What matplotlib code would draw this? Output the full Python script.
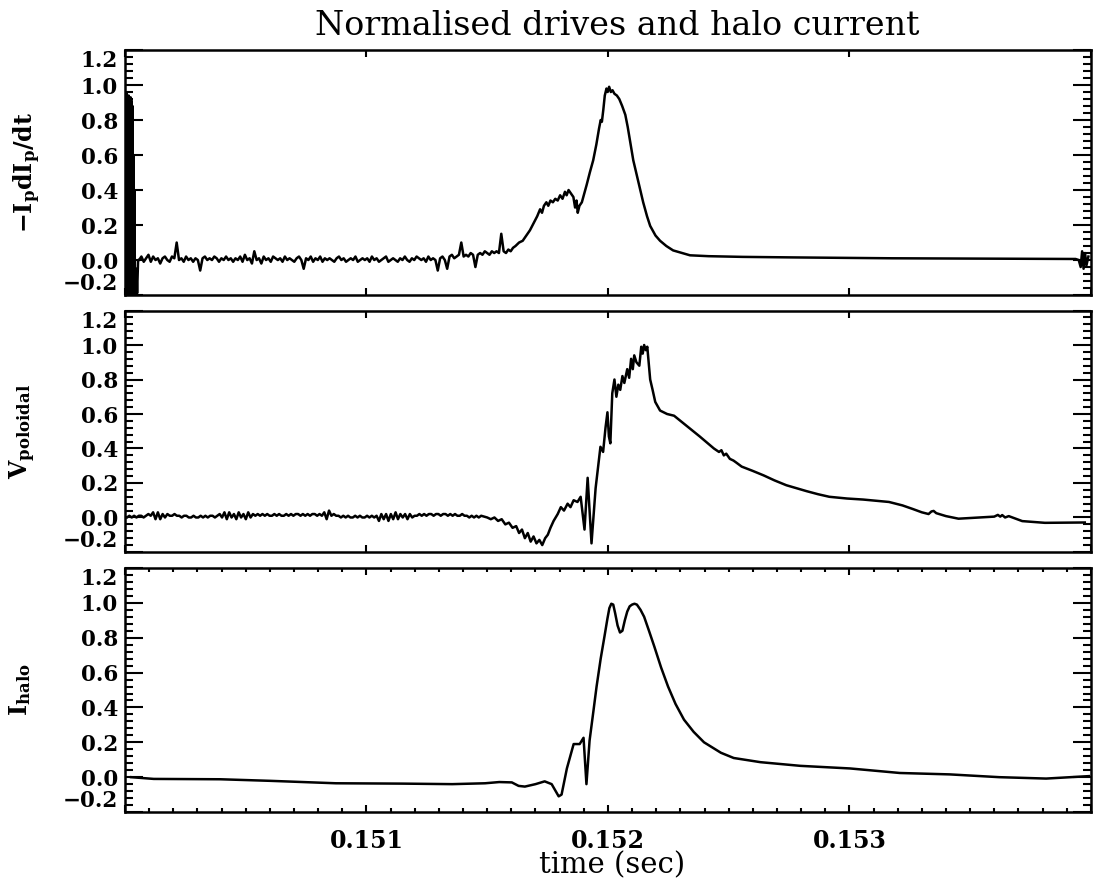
import numpy as np
import matplotlib
matplotlib.use("Agg")
import matplotlib.pyplot as plt
from matplotlib.ticker import FixedLocator, MultipleLocator

# ---------------- data ----------------
# Panel 1: -Ip dIp/dt (normalised)
ip_trans_t = [0.150003, 0.150005, 0.150007, 0.150009, 0.150011, 0.150013, 0.150015, 0.150017,
              0.150019, 0.150021, 0.150023, 0.150025, 0.150027, 0.150029, 0.150031, 0.150033,
              0.150035, 0.150037, 0.150039, 0.150041, 0.150044, 0.150047, 0.150050, 0.150054]
ip_trans_v = [0.93, -0.21, 0.95, -0.20, 0.92, -0.21, 0.94, -0.20,
              0.90, -0.21, 0.93, -0.20, 0.91, -0.21, 0.88, -0.20,
              0.60, -0.21, 0.40, -0.20, -0.18, -0.05, -0.19, 0.00]
ip_noise_start, ip_noise_end = 0.150058, 0.151607
ip_noise_v = [0.00, 0.02, -0.01, 0.01, 0.03, -0.01, 0.02, 0.00, 0.01, -0.02,
              0.01, 0.02, 0.00, -0.01, 0.02, 0.01, 0.10, 0.00, 0.01, -0.01,
              0.02, 0.00, 0.01, -0.01, 0.01, 0.00, -0.06, 0.01, 0.02, 0.00,
              0.01, 0.00, 0.02, 0.01, -0.01, 0.01, 0.00, 0.02, 0.00, 0.01,
              -0.01, 0.01, 0.00, 0.02, -0.01, 0.03, 0.00, 0.01, -0.02, 0.05,
              0.00, 0.01, -0.02, 0.02, 0.00, 0.01, -0.01, 0.02, 0.01, 0.00,
              0.01, -0.01, 0.02, 0.00, 0.01, 0.00, -0.01, 0.01, 0.02, 0.00,
              -0.05, 0.01, 0.00, 0.02, -0.01, 0.01, 0.00, 0.02, -0.01, 0.01,
              0.00, 0.01, 0.00, -0.01, 0.01, 0.02, 0.00, 0.01, -0.01, 0.00,
              0.01, 0.00, 0.02, -0.01, 0.00, 0.01, 0.00, 0.01, -0.01, 0.02,
              0.00, 0.01, -0.01, 0.00, 0.01, 0.02, -0.01, 0.00, 0.01, 0.00,
              -0.01, 0.01, 0.00, 0.02, 0.00, -0.01, 0.01, 0.00, 0.02, 0.01,
              0.00, 0.01, -0.01, 0.02, 0.00, 0.01, 0.00, -0.06, 0.01, 0.02,
              0.00, -0.05, 0.02, 0.03, 0.01, 0.02, 0.03, 0.10, 0.02, 0.03,
              0.02, 0.04, 0.03, -0.04, 0.03, 0.04, 0.03, 0.05, 0.04, 0.03,
              0.05, 0.04, 0.05, 0.04, 0.15, 0.05, 0.04, 0.06, 0.05, 0.07]
ip_main_t = [0.151617, 0.151632, 0.151647, 0.151662, 0.151677, 0.151692, 0.151707, 0.151719,
             0.151727, 0.151735, 0.151745, 0.151753, 0.151762, 0.151772, 0.151782, 0.151792,
             0.151802, 0.151812, 0.151822, 0.151829, 0.151837, 0.151847, 0.151857, 0.151864,
             0.151870, 0.151875, 0.151882, 0.151892, 0.151902, 0.151912, 0.151925, 0.151939,
             0.151952, 0.151963, 0.151970, 0.151975, 0.151981, 0.151987, 0.151994, 0.151999,
             0.152005, 0.152012, 0.152019, 0.152027, 0.152037, 0.152047, 0.152059, 0.152072,
             0.152082, 0.152093, 0.152105, 0.152117, 0.152132, 0.152146, 0.152162, 0.152175,
             0.152197, 0.152216, 0.152242, 0.152270, 0.152307, 0.152340, 0.152417, 0.152558,
             0.152764, 0.153176, 0.153588, 0.153937,
             0.153950, 0.153958, 0.153964, 0.153970, 0.153976, 0.153982, 0.153990]
ip_main_v = [0.08, 0.10, 0.11, 0.14, 0.17, 0.21, 0.25, 0.29,
             0.27, 0.31, 0.33, 0.31, 0.34, 0.33, 0.35, 0.34,
             0.37, 0.35, 0.39, 0.37, 0.40, 0.38, 0.36, 0.30,
             0.34, 0.27, 0.31, 0.33, 0.38, 0.43, 0.50, 0.57,
             0.66, 0.75, 0.80, 0.79, 0.86, 0.94, 0.98, 0.96,
             0.99, 0.96, 0.97, 0.95, 0.94, 0.92, 0.88, 0.83,
             0.76, 0.67, 0.57, 0.50, 0.41, 0.33, 0.25, 0.195,
             0.14, 0.11, 0.08, 0.055, 0.04, 0.027, 0.022, 0.018,
             0.015, 0.010, 0.008, 0.006,
             0.00, -0.04, 0.05, -0.05, 0.04, -0.03, 0.02]

# Panel 2: V_poloidal (normalised)
vp_noise_start, vp_noise_end = 0.150008, 0.151475
vp_noise_v = [0.00, 0.01, 0.00, 0.01, 0.00, 0.01, 0.01, 0.00, 0.01, 0.02,
              0.01, 0.03, -0.01, 0.03, -0.01, 0.02, 0.00, 0.02, 0.01, 0.01,
              0.02, 0.01, 0.01, 0.00, 0.01, 0.01, 0.00, 0.00, 0.01, 0.00,
              0.00, 0.01, 0.00, 0.01, 0.00, 0.01, 0.01, 0.00, 0.01, 0.02,
              0.00, 0.03, -0.01, 0.03, 0.00, 0.02, -0.01, 0.03, 0.00, 0.02,
              -0.01, 0.03, 0.00, 0.02, 0.01, 0.02, 0.01, 0.02, 0.01, 0.02,
              0.01, 0.01, 0.02, 0.01, 0.02, 0.01, 0.01, 0.02, 0.01, 0.02,
              0.01, 0.02, 0.02, 0.01, 0.02, 0.01, 0.02, 0.01, 0.02, 0.02,
              0.01, 0.02, 0.01, 0.03, -0.01, 0.04, 0.01, 0.02, 0.01, 0.01,
              0.00, 0.01, 0.00, 0.01, 0.00, 0.00, 0.01, 0.00, 0.01, 0.00,
              0.00, 0.01, 0.00, 0.01, 0.00, 0.01, -0.02, 0.02, -0.01, 0.02,
              -0.02, 0.02, -0.01, 0.03, -0.01, 0.02, 0.00, 0.02, -0.01, 0.02,
              0.00, 0.01, 0.01, 0.02, 0.01, 0.02, 0.01, 0.02, 0.02, 0.01,
              0.02, 0.02, 0.01, 0.02, 0.02, 0.01, 0.02, 0.01, 0.02, 0.01,
              0.01, 0.02, 0.01, 0.01, 0.00, 0.01, 0.00, 0.01, 0.00, 0.01]
vp_main_t = [0.151500, 0.151515, 0.151530, 0.151545, 0.151560, 0.151575, 0.151590, 0.151605,
             0.151620, 0.151632, 0.151644, 0.151656, 0.151668, 0.151680, 0.151692, 0.151704,
             0.151716, 0.151728, 0.151740, 0.151751, 0.151762, 0.151775, 0.151792, 0.151805,
             0.151818, 0.151833, 0.151845, 0.151858, 0.151874, 0.151887, 0.151903, 0.151916,
             0.151932, 0.151949, 0.151960, 0.151969, 0.151980, 0.151990, 0.151998, 0.152004,
             0.152010, 0.152018, 0.152027, 0.152035, 0.152043, 0.152051, 0.152060, 0.152068,
             0.152080, 0.152088, 0.152096, 0.152103, 0.152109, 0.152118, 0.152130, 0.152138,
             0.152144, 0.152150, 0.152157, 0.152163, 0.152175, 0.152185, 0.152196, 0.152216,
             0.152245, 0.152274, 0.152327, 0.152380, 0.152439, 0.152460, 0.152470, 0.152480,
             0.152490, 0.152505, 0.152520, 0.152530, 0.152554, 0.152600, 0.152645, 0.152690,
             0.152739, 0.152780, 0.152822, 0.152870, 0.152917, 0.152990, 0.153057, 0.153110,
             0.153164, 0.153220, 0.153263, 0.153300, 0.153328, 0.153340, 0.153349, 0.153360,
             0.153400, 0.153452, 0.153534, 0.153600, 0.153615, 0.153625, 0.153633, 0.153645,
             0.153660, 0.153716, 0.153810, 0.153975]
vp_main_v = [0.00, -0.01, 0.00, -0.02, -0.01, -0.04, -0.03, -0.06,
             -0.05, -0.09, -0.07, -0.12, -0.09, -0.14, -0.11, -0.15,
             -0.13, -0.16, -0.12, -0.10, -0.06, -0.02, 0.02, 0.06,
             0.04, 0.08, 0.06, 0.10, 0.09, 0.12, -0.07, 0.23,
             -0.15, 0.17, 0.30, 0.41, 0.38, 0.52, 0.61, 0.47,
             0.43, 0.72, 0.80, 0.70, 0.77, 0.74, 0.82, 0.78,
             0.86, 0.81, 0.92, 0.86, 0.94, 0.90, 0.88, 0.99,
             0.95, 1.00, 0.97, 0.99, 0.80, 0.74, 0.67, 0.62,
             0.60, 0.59, 0.53, 0.47, 0.40, 0.38, 0.39, 0.36,
             0.37, 0.34, 0.33, 0.32, 0.295, 0.27, 0.244, 0.215,
             0.187, 0.17, 0.153, 0.135, 0.12, 0.11, 0.104, 0.097,
             0.09, 0.07, 0.049, 0.03, 0.02, 0.035, 0.038, 0.025,
             0.008, -0.007, 0.00, 0.005, 0.015, 0.005, 0.014, 0.00,
             0.008, -0.021, -0.031, -0.029]

# Panel 3: I_halo (normalised)
ih_t = [0.150025, 0.150119, 0.150395, 0.150601, 0.150873, 0.151149, 0.151355, 0.151491,
        0.151550, 0.151602, 0.151630, 0.151656, 0.151700, 0.151738, 0.151767, 0.151796,
        0.151808, 0.151830, 0.151858, 0.151883, 0.151899, 0.151911, 0.151924, 0.151940,
        0.151953, 0.151970, 0.151986, 0.151998, 0.152006, 0.152014, 0.152022, 0.152030,
        0.152040, 0.152050, 0.152060, 0.152070, 0.152080, 0.152090, 0.152100, 0.152110,
        0.152120, 0.152135, 0.152150, 0.152170, 0.152192, 0.152220, 0.152249, 0.152280,
        0.152315, 0.152355, 0.152398, 0.152468, 0.152521, 0.152632, 0.152797, 0.153003,
        0.153209, 0.153415, 0.153621, 0.153815, 0.153992]
ih_v = [0.000, -0.010, -0.012, -0.021, -0.035, -0.037, -0.040, -0.035,
        -0.028, -0.030, -0.050, -0.054, -0.040, -0.024, -0.040, -0.110,
        -0.100, 0.050, 0.190, 0.190, 0.226, -0.040, 0.210, 0.380,
        0.520, 0.680, 0.810, 0.910, 0.970, 0.995, 0.990, 0.940,
        0.870, 0.830, 0.840, 0.900, 0.950, 0.980, 0.990, 0.995,
        0.990, 0.960, 0.920, 0.840, 0.750, 0.630, 0.520, 0.420,
        0.330, 0.260, 0.200, 0.140, 0.110, 0.086, 0.065, 0.050,
        0.024, 0.016, 0.000, -0.008, 0.006]

title = "Normalised drives and halo current"
ylabels = [r"$\mathbf{-I_p dI_p/dt}$", r"$\mathbf{V_{poloidal}}$", r"$\mathbf{I_{halo}}$"]
xlabel = "time (sec)"
y_ticks = [-0.2, 0.0, 0.2, 0.4, 0.6, 0.8, 1.0, 1.2]
y_ticklabels = ["\u22120.2", "0.0", "0.2", "0.4", "0.6", "0.8", "1.0", "1.2"]
x_ticks = [0.150, 0.151, 0.152, 0.153, 0.154]
x_ticklabels = ["", "0.151", "0.152", "0.153", ""]

# ---------------- build series ----------------
ip_t = np.concatenate([ip_trans_t, np.linspace(ip_noise_start, ip_noise_end, len(ip_noise_v)), ip_main_t])
ip_v = np.concatenate([ip_trans_v, ip_noise_v, ip_main_v])
vp_t = np.concatenate([np.linspace(vp_noise_start, vp_noise_end, len(vp_noise_v)), vp_main_t])
vp_v = np.concatenate([vp_noise_v, vp_main_v])
series = [(ip_t, ip_v), (vp_t, vp_v), (np.array(ih_t), np.array(ih_v))]

# ---------------- figure ----------------
plt.rcParams["mathtext.fontset"] = "dejavuserif"
plt.rcParams["font.family"] = "DejaVu Serif"

fig = plt.figure(figsize=(10.93, 8.90), dpi=100)
L, R = 0.1144, 0.998
boxes = [(0.6685, 0.2753), (0.3798, 0.2713), (0.0876, 0.2742)]
label_x = [-0.085, -0.090, -0.095]

for i, ((b, h), (t, v)) in enumerate(zip(boxes, series)):
    ax = fig.add_axes([L, b, R - L, h])
    ax.plot(t, v, color="black", lw=1.8, solid_joinstyle="round")
    ax.set_xlim(0.150, 0.154)
    ax.set_ylim(-0.2, 1.2)
    ax.yaxis.set_major_locator(FixedLocator(y_ticks))
    ax.set_yticklabels(y_ticklabels, fontsize=15.5, fontweight="bold")
    ax.yaxis.set_minor_locator(MultipleLocator(0.04))
    ax.xaxis.set_major_locator(FixedLocator(x_ticks))
    if i == 2:
        ax.xaxis.set_minor_locator(MultipleLocator(0.0001))
        ax.set_xticklabels(x_ticklabels, fontsize=17, fontweight="bold")
    else:
        ax.set_xticklabels([""] * len(x_ticks))
    ax.tick_params(which="both", direction="in", top=True, right=True, width=1.5, colors="black")
    ax.tick_params(axis="y", which="major", length=13, pad=5)
    ax.tick_params(axis="y", which="minor", length=6)
    ax.tick_params(axis="x", which="major", length=5, pad=12)
    ax.tick_params(axis="x", which="minor", length=3)
    for s in ax.spines.values():
        s.set_linewidth(1.8)
    labs = ax.get_yticklabels()
    labs[0].set_va("bottom")
    labs[-1].set_va("top")
    ax.set_ylabel(ylabels[i], fontsize=17)
    ax.yaxis.set_label_coords(label_x[i], 0.5)

fig.text(0.5645, 0.971, title, ha="center", va="center", fontsize=24)
fig.text(0.56, 0.028, xlabel, ha="center", va="center", fontsize=21)

fig.savefig("out.png", dpi=100)
